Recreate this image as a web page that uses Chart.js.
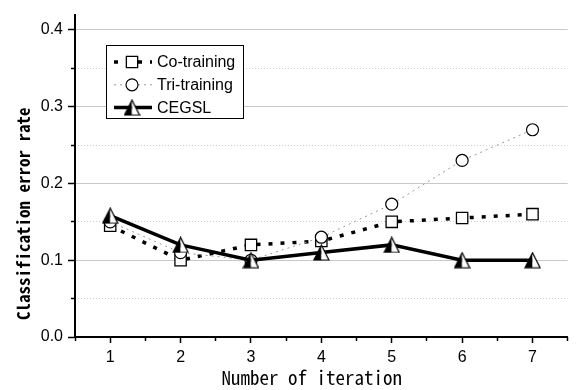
<!DOCTYPE html>
<html>
<head>
<meta charset="utf-8">
<script src="https://cdn.jsdelivr.net/npm/chart.js@4"></script>
<style>
html,body{margin:0;padding:0;background:#fff;}
#wrap{width:577px;height:390px;}
</style>
</head>
<body>
<div id="wrap"><canvas id="c" width="577" height="390"></canvas></div>
<script>
const iterations = [1, 2, 3, 4, 5, 6, 7];
const coTraining = [0.145, 0.100, 0.120, 0.125, 0.150, 0.155, 0.160];
const triTraining = [0.150, 0.110, 0.100, 0.130, 0.173, 0.230, 0.270];
const cegsl = [0.158, 0.120, 0.100, 0.110, 0.120, 0.100, 0.100];
const seriesLabels = ['Co-training', 'Tri-training', 'CEGSL'];
const yMajorTicks = [0, 0.1, 0.2, 0.3, 0.4];
const yMinorTicks = [0.05, 0.15, 0.25, 0.35];
const xMinorTicks = [0.5, 1.5, 2.5, 3.5, 4.5, 5.5, 6.5, 7.5];
const yTitle = '  Classification error rate';
const xTitle = 'Number of iteration  ';

function halfTriangle(size) {
  const c = document.createElement('canvas');
  c.width = size; c.height = size;
  const g = c.getContext('2d');
  const m = size / 2, t = 1, b = size - 1, l = 1, r = size - 1;
  g.fillStyle = '#000';
  g.beginPath(); g.moveTo(m, t); g.lineTo(l, b); g.lineTo(m, b); g.closePath(); g.fill();
  g.fillStyle = '#fff';
  g.beginPath(); g.moveTo(m, t); g.lineTo(r, b); g.lineTo(m, b); g.closePath(); g.fill();
  g.strokeStyle = '#000'; g.lineWidth = 1.2; g.lineJoin = 'miter';
  g.beginPath(); g.moveTo(m, t); g.lineTo(l, b); g.lineTo(r, b); g.closePath(); g.stroke();
  return c;
}
const triImg = halfTriangle(17);

function toPts(arr) { return iterations.map((x, i) => ({x: x, y: arr[i]})); }

const tickFont = {family: "'Liberation Sans', Arial, sans-serif", size: 16};
const titleFamily = "'Noto Sans Mono CJK SC', 'Liberation Mono', monospace";

const legendPlugin = {
  id: 'boxLegend',
  afterDraw(chart) {
    const ctx = chart.ctx;
    const x0 = 106, y0 = 45, w = 137, h = 73;
    ctx.save();
    ctx.fillStyle = '#fff';
    ctx.fillRect(x0, y0, w, h);
    ctx.strokeStyle = '#000'; ctx.lineWidth = 1;
    ctx.strokeRect(x0 + 0.5, y0 + 0.5, w, h);
    chart.data.datasets.forEach((ds, i) => {
      const y = y0 + 17 + i * 22.8;
      ctx.save();
      ctx.strokeStyle = ds.borderColor;
      ctx.lineWidth = ds.borderWidth;
      ctx.setLineDash(ds.borderDash || []);
      ctx.beginPath(); ctx.moveTo(x0 + 8, y); ctx.lineTo(x0 + 46, y); ctx.stroke();
      ctx.restore();
      ctx.save();
      ctx.fillStyle = ds.pointBackgroundColor;
      ctx.strokeStyle = ds.pointBorderColor;
      ctx.lineWidth = ds.pointBorderWidth;
      Chart.helpers.drawPoint(ctx, {pointStyle: ds.pointStyle, radius: ds.pointRadius, borderWidth: ds.pointBorderWidth, rotation: 0}, x0 + 26, y);
      ctx.restore();
      ctx.fillStyle = '#000';
      ctx.font = "16px 'Liberation Sans', Arial, sans-serif";
      ctx.textBaseline = 'middle';
      ctx.textAlign = 'left';
      ctx.fillText(ds.label, x0 + 51, y + 1);
    });
    ctx.restore();
  }
};

new Chart(document.getElementById('c'), {
  type: 'line',
  data: {
    datasets: [
      {
        label: seriesLabels[0], data: toPts(coTraining), order: 3,
        borderColor: '#000', borderWidth: 3.5, borderDash: [4, 8], borderCapStyle: 'butt',
        pointStyle: 'rect', pointRadius: 8, pointBorderWidth: 1.3,
        pointBackgroundColor: '#fff', pointBorderColor: '#000', tension: 0, fill: false
      },
      {
        label: seriesLabels[1], data: toPts(triTraining), order: 2,
        borderColor: '#999999', borderWidth: 1, borderDash: [2, 4],
        pointStyle: 'circle', pointRadius: 6, pointBorderWidth: 1.2,
        pointBackgroundColor: '#fff', pointBorderColor: '#000', tension: 0, fill: false
      },
      {
        label: seriesLabels[2], data: toPts(cegsl), order: 1,
        borderColor: '#000', borderWidth: 3.5, borderDash: [],
        pointStyle: triImg, pointRadius: 8, pointBorderWidth: 1.2,
        pointBackgroundColor: '#fff', pointBorderColor: '#000', tension: 0, fill: false
      }
    ]
  },
  options: {
    responsive: false,
    animation: false,
    devicePixelRatio: 1,
    layout: {padding: {top: 6, right: 6, left: 0, bottom: 0}},
    plugins: {legend: {display: false}, tooltip: {enabled: false}},
    scales: {
      x: {
        type: 'linear', position: 'bottom', weight: 1, min: 0.5, max: 7.5,
        afterBuildTicks: s => { s.ticks = iterations.map(v => ({value: v})); },
        afterFit: s => { s.height = 53; },
        ticks: {font: tickFont, color: '#000', padding: 5, maxRotation: 0, callback: v => String(v)},
        grid: {drawOnChartArea: false, drawTicks: true, tickLength: 6, tickColor: '#000', tickWidth: 1.5},
        border: {display: true, color: '#000', width: 2},
        title: {display: true, text: xTitle, color: '#000',
          font: {family: titleFamily, size: 19},
          padding: {top: 0, bottom: 1}}
      },
      x2: {
        type: 'linear', position: 'bottom', weight: 0, min: 0.5, max: 7.5,
        afterBuildTicks: s => { s.ticks = xMinorTicks.map(v => ({value: v})); },
        afterFit: s => { s.height = 0; },
        ticks: {display: false},
        grid: {drawOnChartArea: false, drawTicks: true, tickLength: 4, tickColor: '#000', tickWidth: 1.5},
        border: {display: false}
      },
      y: {
        type: 'linear', position: 'left', weight: 1, min: 0, max: 0.42,
        afterBuildTicks: s => { s.ticks = yMajorTicks.map(v => ({value: v})); },
        afterFit: s => { s.width = 75; },
        ticks: {font: tickFont, color: '#000', padding: 5, callback: v => Number(v).toFixed(1)},
        grid: {color: '#c8c8c8', lineWidth: 1, drawTicks: true, tickLength: 7, tickColor: '#000', tickWidth: 1.5},
        border: {display: true, color: '#000', width: 2},
        title: {display: true, text: yTitle, color: '#000', align: 'start',
          font: {family: titleFamily, size: 17, weight: 'bold'},
          padding: {top: 13, bottom: 0}}
      },
      y2: {
        type: 'linear', position: 'left', weight: 0, min: 0, max: 0.42,
        afterBuildTicks: s => { s.ticks = yMinorTicks.map(v => ({value: v})); },
        afterFit: s => { s.width = 0; },
        ticks: {display: false},
        grid: {color: '#cfcfcf', lineWidth: 1, drawOnChartArea: true, drawTicks: true, tickLength: 4, tickColor: '#000', tickWidth: 1.5},
        border: {display: false, dash: [1, 2]}
      }
    }
  },
  plugins: [legendPlugin]
});
</script>
</body>
</html>
